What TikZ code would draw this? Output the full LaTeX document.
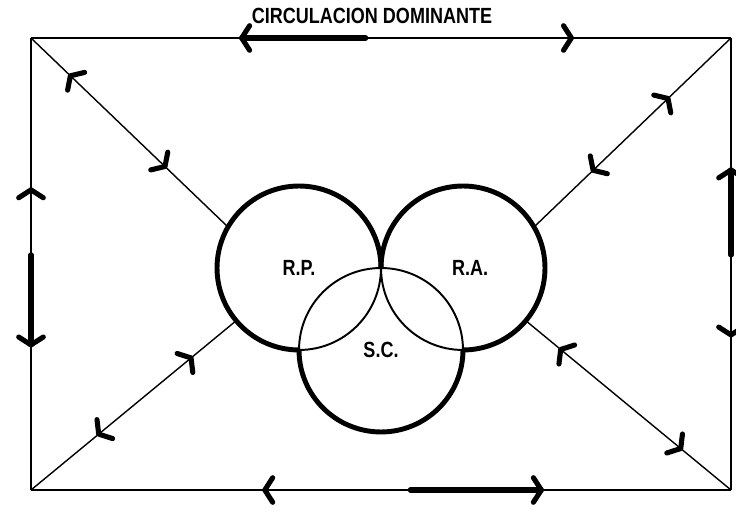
\documentclass[tikz,border=0pt]{standalone}
\usepackage{fontspec}
\setmainfont{Liberation Sans}
\newfontfamily\letterfont[FakeStretch=0.82]{Liberation Sans}
\usepackage{tikz}
\usetikzlibrary{calc,decorations.markings}

\newcommand{\barbfwd}{\draw[barb] (-4.5pt,7pt) -- (0,0) -- (-4.5pt,-7pt);}
\newcommand{\barbback}{\draw[barb] (4.5pt,7pt) -- (0,0) -- (4.5pt,-7pt);}

\begin{document}
\begin{tikzpicture}[x=0.02cm, y=0.02cm,
  frame/.style={line width=0.8pt},
  barb/.style={line width=2.9pt, line cap=round, line join=round},
  shaft/.style={line width=3pt, line cap=round},
  zone/.style={circle, minimum size=3.28cm, inner sep=0pt, outer sep=0pt,
    font=\letterfont\bfseries\fontsize{12.5}{14}\selectfont},
  ringthick/.style={line width=2.8pt},
  ringthin/.style={line width=1.1pt},
  heads/.style={postaction={decorate}, decoration={markings, #1}}]
  \useasboundingbox (0,0) rectangle (736,523);

  \coordinate (tl) at (31,485);
  \coordinate (tr) at (731,485);
  \coordinate (bl) at (31,33);
  \coordinate (br) at (731,33);

  \node[font=\letterfont\bfseries\fontsize{12.5}{14}\selectfont] (title) at (372,507) {CIRCULACION DOMINANTE};

  \node[zone] (rp) at (299,255) {R.P.};
  \node[zone] (ra) at (463,255) {\hspace{8pt}R.A.};
  \node[zone] (sc) at (381,173) {S.C.};

  \draw[ringthin] (rp.south) arc[start angle=-90, end angle=0, radius=1.64cm];
  \draw[ringthick] (rp.east) arc[start angle=0, end angle=270, radius=1.64cm];
  \draw[ringthin] (ra.west) arc[start angle=180, end angle=270, radius=1.64cm];
  \draw[ringthick] (ra.south) arc[start angle=-90, end angle=180, radius=1.64cm];
  \draw[ringthin] (sc.east) arc[start angle=0, end angle=180, radius=1.64cm];
  \draw[ringthick] (sc.west) arc[start angle=180, end angle=360, radius=1.64cm];

  \draw[frame, heads={mark=at position 0.301 with {\barbback}, mark=at position 0.772 with {\barbfwd}}] (tl) -- (tr);
  \draw[frame, heads={mark=at position 0.336 with {\barbback}, mark=at position 0.679 with {\barbfwd}}] (tl) -- (bl);
  \draw[frame, heads={mark=at position 0.334 with {\barbback}, mark=at position 0.729 with {\barbfwd}}] (bl) -- (br);
  \draw[frame, heads={mark=at position 0.343 with {\barbback}, mark=at position 0.708 with {\barbfwd}}] (br) -- (tr);
  \draw[shaft] ($(tl)!0.478!(tr)$) -- ($(tl)!0.301!(tr)$);
  \draw[shaft] ($(tl)!0.48!(bl)$) -- ($(tl)!0.679!(bl)$);
  \draw[shaft] ($(bl)!0.542!(br)$) -- ($(bl)!0.729!(br)$);
  \draw[shaft] ($(br)!0.52!(tr)$) -- ($(br)!0.708!(tr)$);

  \draw[frame, heads={mark=at position 0.2 with {\barbback}, mark=at position 0.68 with {\barbfwd}}] (tl) -- (rp.150);
  \draw[frame, heads={mark=at position 0.32 with {\barbback}, mark=at position 0.7 with {\barbfwd}}] (tr) -- (ra.30);
  \draw[frame, heads={mark=at position 0.33 with {\barbback}, mark=at position 0.78 with {\barbfwd}}] (bl) -- (rp.220);
  \draw[frame, heads={mark=at position 0.245 with {\barbback}, mark=at position 0.83 with {\barbfwd}}] (br) -- (ra.-40);
\end{tikzpicture}
\end{document}
